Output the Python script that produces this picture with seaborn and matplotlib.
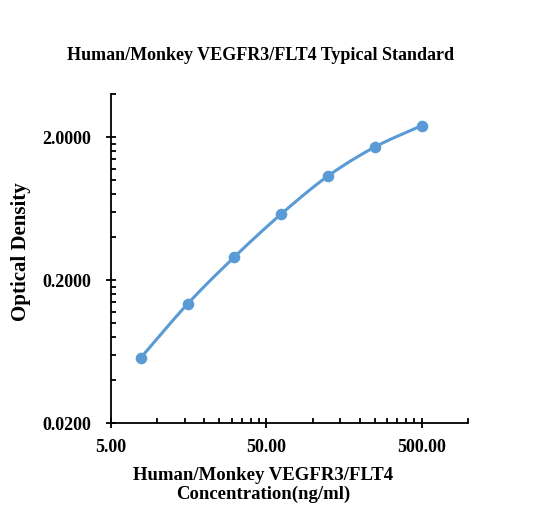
import numpy as np
import pandas as pd
import matplotlib
matplotlib.use("Agg")
import matplotlib.pyplot as plt
import matplotlib.ticker as mticker
import seaborn as sns

# standard curve readings
conc = [7.81, 15.63, 31.25, 62.5, 125.0, 250.0, 500.0]
od = [0.0574, 0.1367, 0.2908, 0.580, 1.069, 1.704, 2.402]

x_ticks = [5, 50, 500]
y_ticks = [0.02, 0.2, 2.0]

data = pd.DataFrame({"conc": conc, "od": od})

sns.set_theme(style="white")
plt.rcParams["font.family"] = ["Liberation Serif", "DejaVu Serif"]
plt.rcParams["font.weight"] = "bold"
for k in ["text.color", "axes.labelcolor", "xtick.color", "ytick.color"]:
    plt.rcParams[k] = "black"

blue = "#5B9BD5"


def smooth(xs, ys, n=30):
    # catmull-rom in log space, roughly like excel's smoothed line
    lx, ly = np.log10(xs), np.log10(ys)
    px = np.concatenate([[2 * lx[0] - lx[1]], lx, [2 * lx[-1] - lx[-2]]])
    py = np.concatenate([[2 * ly[0] - ly[1]], ly, [2 * ly[-1] - ly[-2]]])
    outx, outy = [], []
    t = np.linspace(0, 1, n)
    for i in range(1, len(px) - 2):
        for p, out in ((px, outx), (py, outy)):
            p0, p1, p2, p3 = p[i - 1], p[i], p[i + 1], p[i + 2]
            out.extend(0.5 * (2 * p1 + (-p0 + p2) * t
                              + (2 * p0 - 5 * p1 + 4 * p2 - p3) * t ** 2
                              + (-p0 + 3 * p1 - 3 * p2 + p3) * t ** 3))
    return 10 ** np.array(outx), 10 ** np.array(outy)


fig = plt.figure(figsize=(5.51, 5.29), dpi=100)
ax = fig.add_axes([0.2009, 0.1998, 0.8500 - 0.2009, 0.8223 - 0.1998])

cx, cy = smooth(np.array(conc), np.array(od))
curve = pd.DataFrame({"conc": cx, "od": cy})
sns.lineplot(data=curve, x="conc", y="od", ax=ax, color=blue, lw=2.2,
             sort=False, estimator=None)
sns.scatterplot(data=data, x="conc", y="od", ax=ax, color=blue, s=70,
                edgecolor=blue, linewidth=0, zorder=3)

ax.set_xscale("log")
ax.set_yscale("log")
ax.set_xlim(5, 1000)
ax.set_ylim(0.02, 4)

ax.xaxis.set_major_locator(mticker.FixedLocator(x_ticks))
ax.xaxis.set_minor_locator(mticker.FixedLocator(
    list(range(10, 50, 5)) + list(range(100, 500, 50)) + [1000]))
ax.yaxis.set_major_locator(mticker.FixedLocator(y_ticks))
ax.yaxis.set_minor_locator(mticker.FixedLocator(
    [v / 100 for v in range(4, 20, 2)] + [v / 10 for v in range(4, 20, 2)] + [4]))
ax.xaxis.set_major_formatter(mticker.FuncFormatter(lambda v, p: f"{v:.2f}"))
ax.yaxis.set_major_formatter(mticker.FuncFormatter(lambda v, p: f"{v:.4f}"))
ax.xaxis.set_minor_formatter(mticker.NullFormatter())
ax.yaxis.set_minor_formatter(mticker.NullFormatter())

ax.tick_params(which="major", direction="inout", length=7, width=1.3,
               color="black", labelsize=13)
ax.tick_params(axis="x", which="major", pad=8)
ax.tick_params(axis="y", which="major", pad=10.5)
ax.tick_params(which="minor", direction="in", length=3.5, width=1.3,
               color="black")
ax.tick_params(axis="x", which="both", bottom=True)
ax.tick_params(axis="y", which="both", left=True)
for lab in ax.get_xticklabels() + ax.get_yticklabels():
    lab.set_fontweight("bold")

for side in ["top", "right"]:
    ax.spines[side].set_visible(False)
for side in ["left", "bottom"]:
    ax.spines[side].set_color("black")
    ax.spines[side].set_linewidth(1.3)

ax.set_xlabel("Human/Monkey VEGFR3/FLT4\nConcentration(ng/ml)",
              fontsize=13.5, fontweight="bold", linespacing=1.08)
ax.xaxis.set_label_coords(0.427, -0.134, transform=ax.transAxes)
ax.xaxis.label.set_verticalalignment("top")
ax.set_ylabel("Optical Density", fontsize=15, fontweight="bold", labelpad=8.5)
ax.yaxis.label.set_y(0.522)
fig.text(0.472, 0.895, "Human/Monkey VEGFR3/FLT4 Typical Standard",
         ha="center", va="center", fontsize=13, fontweight="bold")

fig.savefig("out.png", dpi=100)
